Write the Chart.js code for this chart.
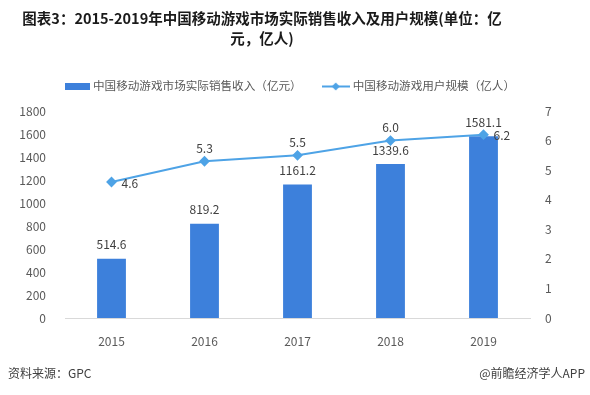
<!DOCTYPE html>
<html>
<head>
<meta charset="utf-8">
<script src="https://cdn.jsdelivr.net/npm/chart.js@4/dist/chart.umd.min.js"></script>
<style>
html, body { margin: 0; padding: 0; background: #fff; }
#wrap { position: relative; width: 590px; height: 395px; }
.title { position: absolute; top: 8px; left: 12px; width: 500px; text-align: center;
         font: bold 14.5px/20px "Noto Sans CJK SC", sans-serif; color: #1a1a1a; }
.note { position: absolute; top: 364px; font: 12px "Noto Sans CJK SC", sans-serif; color: #404040; }
</style>
</head>
<body>
<div id="wrap">
    <canvas id="chart" width="590" height="395"></canvas>
    <div class="title" id="title"></div>
    <div class="note" style="left:8px">资料来源：GPC</div>
    <div class="note" style="right:5px">@前瞻经济学人APP</div>
</div>
<script>
const years = ['2015', '2016', '2017', '2018', '2019'];
const revenue = [514.6, 819.2, 1161.2, 1339.6, 1581.1];
const users = [4.6, 5.3, 5.5, 6.0, 6.2];
const revenueName = '中国移动游戏市场实际销售收入（亿元）';
const usersName = '中国移动游戏用户规模（亿人）';
const titleLines = ['图表3：2015-2019年中国移动游戏市场实际销售收入及用户规模(单位：亿', '元，亿人)'];

const barColor = '#3d80db';
const lineColor = '#4ea3e6';
const font = '"Noto Sans CJK SC", sans-serif';

// title sits left of centre in the original, so it is plain html
const titleEl = document.getElementById('title');
titleLines.forEach((line, i) => {
    if (i > 0) titleEl.appendChild(document.createElement('br'));
    titleEl.appendChild(document.createTextNode(line));
});

// little pictures for the legend
function swatch(w, h, draw) {
    const c = document.createElement('canvas');
    c.width = w;
    c.height = h;
    draw(c.getContext('2d'));
    return c;
}
const barSwatch = swatch(25, 7, ctx => {
    ctx.fillStyle = barColor;
    ctx.fillRect(0, 0, 25, 7);
});
const lineSwatch = swatch(28, 9, ctx => {
    ctx.strokeStyle = lineColor;
    ctx.lineWidth = 2;
    ctx.beginPath();
    ctx.moveTo(0, 4.5);
    ctx.lineTo(28, 4.5);
    ctx.stroke();
    ctx.fillStyle = lineColor;
    ctx.beginPath();
    ctx.moveTo(14, 0.5);
    ctx.lineTo(18, 4.5);
    ctx.lineTo(14, 8.5);
    ctx.lineTo(10, 4.5);
    ctx.closePath();
    ctx.fill();
});

// legend drawn by hand so it can sit where the original has it
const simpleLegend = {
    id: 'simpleLegend',
    afterDraw(chart) {
        const ctx = chart.ctx;
        const y = 86;
        const imgs = [barSwatch, lineSwatch];
        ctx.save();
        ctx.font = '11.6px ' + font;
        ctx.fillStyle = '#595959';
        ctx.textBaseline = 'middle';
        ctx.textAlign = 'left';
        const items = chart.data.datasets.map((ds, i) => ({
            img: imgs[i], text: ds.label, w: imgs[i].width + 3 + ctx.measureText(ds.label).width
        }));
        const total = items.reduce((s, it) => s + it.w, 0) + 20 * (items.length - 1);
        let x = 290 - total / 2;
        items.forEach(it => {
            ctx.drawImage(it.img, x, Math.round(y - it.img.height / 2));
            ctx.fillText(it.text, x + it.img.width + 3, y);
            x += it.w + 20;
        });
        ctx.restore();
    }
};

const valueLabels = {
    id: 'valueLabels',
    afterDatasetsDraw(chart) {
        const ctx = chart.ctx;
        ctx.save();
        ctx.font = '12px ' + font;
        ctx.fillStyle = '#404040';
        ctx.textBaseline = 'middle';
        chart.getDatasetMeta(0).data.forEach((bar, i) => {
            ctx.textAlign = 'center';
            ctx.fillText(revenue[i].toFixed(1), bar.x, bar.y - 14);
        });
        chart.getDatasetMeta(1).data.forEach((pt, i) => {
            if (i === 0 || i === users.length - 1) {
                ctx.textAlign = 'left';
                ctx.fillText(users[i].toFixed(1), pt.x + 10, pt.y + 1);
            } else {
                ctx.textAlign = 'center';
                ctx.fillText(users[i].toFixed(1), pt.x, pt.y - 13);
            }
        });
        ctx.restore();
    }
};

new Chart(document.getElementById('chart'), {
    type: 'bar',
    data: {
        labels: years,
        datasets: [{
            label: revenueName,
            data: revenue,
            backgroundColor: barColor,
            yAxisID: 'y',
            order: 1,
            barPercentage: 0.62,
            categoryPercentage: 0.5
        }, {
            type: 'line',
            label: usersName,
            data: users,
            borderColor: lineColor,
            backgroundColor: lineColor,
            borderWidth: 2,
            pointStyle: 'rectRot',
            pointRadius: 4,
            pointHoverRadius: 4,
            yAxisID: 'y1',
            order: 0
        }]
    },
    options: {
        responsive: false,
        animation: false,
        layout: { padding: { left: 0, right: 0, top: 111, bottom: 0 } },
        plugins: {
            title: { display: false },
            legend: { display: false },
            tooltip: { enabled: false }
        },
        scales: {
            x: {
                grid: { display: false },
                border: { color: '#d9d9d9' },
                ticks: { color: '#595959', font: { family: font, size: 12 }, padding: 8 },
                afterFit(scale) { scale.height = 77; }
            },
            y: {
                position: 'left',
                min: 0,
                max: 1800,
                ticks: {
                    stepSize: 200,
                    color: '#595959',
                    font: { family: font, size: 12 },
                    padding: 11,
                    callback: v => String(v)
                },
                grid: { display: false },
                border: { display: false },
                afterFit(scale) { scale.width = 65; }
            },
            y1: {
                position: 'right',
                min: 0,
                max: 7,
                ticks: { stepSize: 1, color: '#595959', font: { family: font, size: 12 }, padding: 7 },
                grid: { display: false },
                border: { display: false },
                afterFit(scale) { scale.width = 60; }
            }
        }
    },
    plugins: [valueLabels, simpleLegend]
});
</script>
</body>
</html>
